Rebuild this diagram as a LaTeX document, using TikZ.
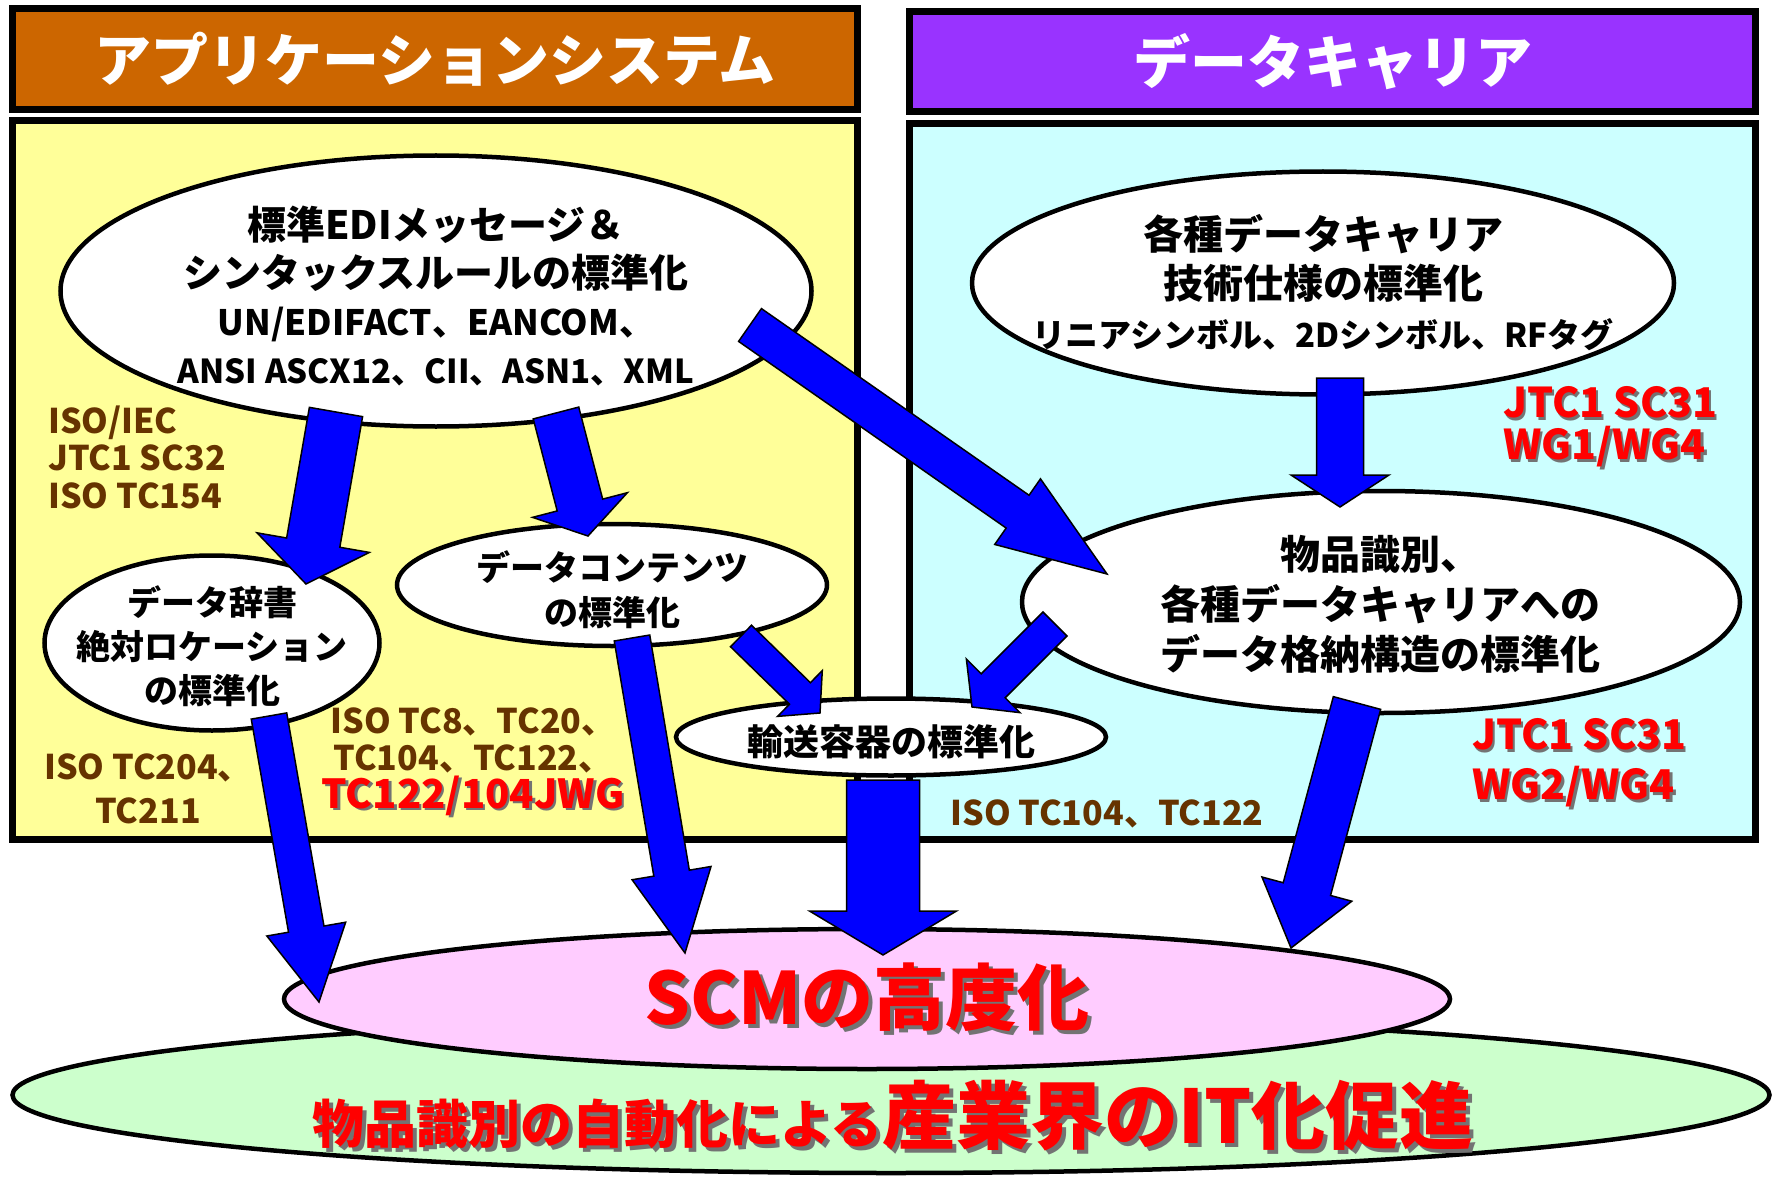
\documentclass[tikz,border=0pt]{standalone}
\usepackage{fontspec}
\setmainfont{Noto Sans CJK JP}
\usepackage{xcolor}
\usepackage{tikz}
\usetikzlibrary{calc}
\usetikzlibrary{shapes.geometric}

\definecolor{titleorange}{HTML}{CC6600}
\definecolor{titlepurple}{HTML}{9933FF}
\definecolor{appyellow}{HTML}{FFFF99}
\definecolor{carriercyan}{HTML}{CCFFFF}
\definecolor{scmpink}{HTML}{FFCCFF}
\definecolor{itgreen}{HTML}{CCFFCC}
\definecolor{isobrown}{HTML}{663300}

\newcommand{\fsz}[2]{\fontsize{#1}{#2}\selectfont}
\newcommand{\shtxt}[2]{\makebox[0pt][l]{\hspace*{#1}\raisebox{-#1}{\color{black!55}#2}}#2}
% tail, tip, half shaft, half head, head length
\newcommand{\blockarrow}[5]{%
  \coordinate (hb) at ($(#2)!#5!(#1)$);
  \draw[bigarrow] ($(#1)!#3!90:(#2)$) -- ($(hb)!#3!90:(#2)$) -- ($(hb)!#4!90:(#2)$) -- (#2)
    -- ($(hb)!#4!-90:(#2)$) -- ($(hb)!#3!-90:(#2)$) -- ($(#1)!#3!-90:(#2)$) -- cycle;}

\begin{document}
\begin{tikzpicture}[x=1pt,y=-1pt,
  panel/.style={draw=black,line width=7},
  titlebox/.style={draw=black,line width=7,text=white,font=\bfseries\fsz{57}{60},inner sep=0pt},
  oval/.style={ellipse,draw=black,line width=4.5,fill=white,inner sep=0pt},
  lines/.style={align=center,font=\bfseries\fsz{39}{48},inner sep=0pt},
  note/.style={align=center,text=isobrown,font=\bfseries\fsz{34}{37.5},inner sep=0pt},
  rednote/.style={align=left,text=red,font=\bfseries\fsz{41}{42},inner sep=0pt},
  bigarrow/.style={fill=blue,draw=black,line width=1.5}]
\useasboundingbox (0,0) rectangle (1775,1177);

% panels and titles
\draw[panel,fill=appyellow] (12.5,120.5) rectangle (857.5,839.5);
\draw[panel,fill=carriercyan] (909.5,123.5) rectangle (1755.5,839.5);
\node[titlebox,fill=titleorange,minimum width=845,minimum height=101] (apptitle) at (435,59) {アプリケーションシステム};
\node[titlebox,fill=titlepurple,minimum width=846,minimum height=100] (cartitle) at (1332.5,61.5) {データキャリア};

% goals
\node[oval,fill=itgreen,minimum width=1757,minimum height=156] (itgoal) at (891,1095) {};
\node[oval,fill=scmpink,minimum width=1166,minimum height=140] (scm) at (867,999) {};
\node[text=red,font=\bfseries\fsz{72}{76},inner sep=0pt] (scmtxt) at (867,999) {\shtxt{4pt}{SCMの高度化}};
\node[anchor=base,text=red,font=\bfseries,inner sep=0pt] (ittxt) at (893,1143)
  {\fsz{52}{60}\shtxt{4pt}{物品識別の自動化による}\fsz{74}{80}\shtxt{4pt}{産業界のIT化促進}};

% standards
\node[oval,minimum width=751,minimum height=271] (edi) at (436,291) {};
\node[lines] (editxt) at (436,296) {標準EDIメッセージ＆\\シンタックスルールの標準化\\
  {\fsz{35}{48}UN/EDIFACT、EANCOM、}\\{\fsz{33}{48}ANSI ASCX12、CII、ASN1、XML}};
\node[oval,minimum width=335,minimum height=175] (dict) at (212,643) {};
\node[lines,font=\bfseries\fsz{34}{44}] (dicttxt) at (212,646) {データ辞書\\絶対ロケーション\\の標準化};
\node[oval,minimum width=430,minimum height=122] (content) at (612,585) {};
\node[lines,font=\bfseries\fsz{34}{45}] (contenttxt) at (612,590) {データコンテンツ\\の標準化};
\node[oval,minimum width=430,minimum height=77] (container) at (891,737) {};
\node[lines,font=\bfseries\fsz{36}{40}] (containertxt) at (891,742) {輸送容器の標準化};
\node[oval,minimum width=702,minimum height=223] (carrier) at (1323,283) {};
\node[lines,font=\bfseries\fsz{40}{49}] (carriertxt) at (1323,283) {各種データキャリア\\技術仕様の標準化\\
  {\fsz{33}{49}リニアシンボル、2Dシンボル、RFタグ}};
\node[oval,minimum width=718,minimum height=222] (itemid) at (1381,602) {};
\node[lines,font=\bfseries\fsz{40}{50}] (itemidtxt) at (1380,604) {物品識別、\\各種データキャリアへの\\データ格納構造の標準化};

% bodies
\node[note,align=left,anchor=west] (isoedi) at (48,457) {ISO/IEC\\JTC1 SC32\\ISO TC154};
\node[note,font=\bfseries\fsz{34}{44}] (isoits) at (148,789) {ISO TC204、\\TC211};
\node[note] (isotc) at (473,763) {ISO TC8、TC20、\\TC104、TC122、\\{\fsz{40}{37.5}\color{red}\shtxt{2.5pt}{TC122/104JWG}}};
\node[note,font=\bfseries\fsz{34}{40}] (isocont) at (1107,814) {ISO TC104、TC122};
\node[rednote,anchor=west] (sc31a) at (1503,428) {\shtxt{2.5pt}{JTC1 SC31}\\\shtxt{2.5pt}{WG1/WG4}};
\node[rednote,anchor=west,font=\bfseries\fsz{41}{50}] (sc31b) at (1472,764) {\shtxt{2.5pt}{JTC1 SC31}\\\shtxt{2.5pt}{WG2/WG4}};

% arrow ends
\coordinate (a1t) at (336,412);  \coordinate (a1h) at (306,584);
\coordinate (a2t) at (556,413);  \coordinate (a2h) at (588,536);
\coordinate (a3t) at (750,325);  \coordinate (a3h) at (1107,574);
\coordinate (a4t) at (1340,378); \coordinate (a4h) at (1340,507);
\coordinate (a5t) at (1055,624); \coordinate (a5h) at (972,707);
\coordinate (a6t) at (741,636);  \coordinate (a6h) at (820,713);
\coordinate (a7t) at (269,716);  \coordinate (a7h) at (319,1002);
\coordinate (a8t) at (632,638);  \coordinate (a8h) at (685,953);
\coordinate (a9t) at (883,780);  \coordinate (a9h) at (883,955);
\coordinate (a10t) at (1357,703); \coordinate (a10h) at (1291,948);

\blockarrow{a1t}{a1h}{27pt}{57pt}{42pt}
\blockarrow{a2t}{a2h}{23.5pt}{49pt}{32pt}
\blockarrow{a3t}{a3h}{20pt}{40pt}{109pt}
\blockarrow{a4t}{a4h}{23.5pt}{49pt}{32pt}
\blockarrow{a5t}{a5h}{17pt}{38pt}{30pt}
\blockarrow{a6t}{a6h}{15pt}{32pt}{28pt}
\blockarrow{a7t}{a7h}{18pt}{40pt}{74pt}
\blockarrow{a8t}{a8h}{18pt}{40pt}{81pt}
\blockarrow{a9t}{a9h}{36.5pt}{73.5pt}{44pt}
\blockarrow{a10t}{a10h}{24.5pt}{46.5pt}{61pt}
\end{tikzpicture}
\end{document}
